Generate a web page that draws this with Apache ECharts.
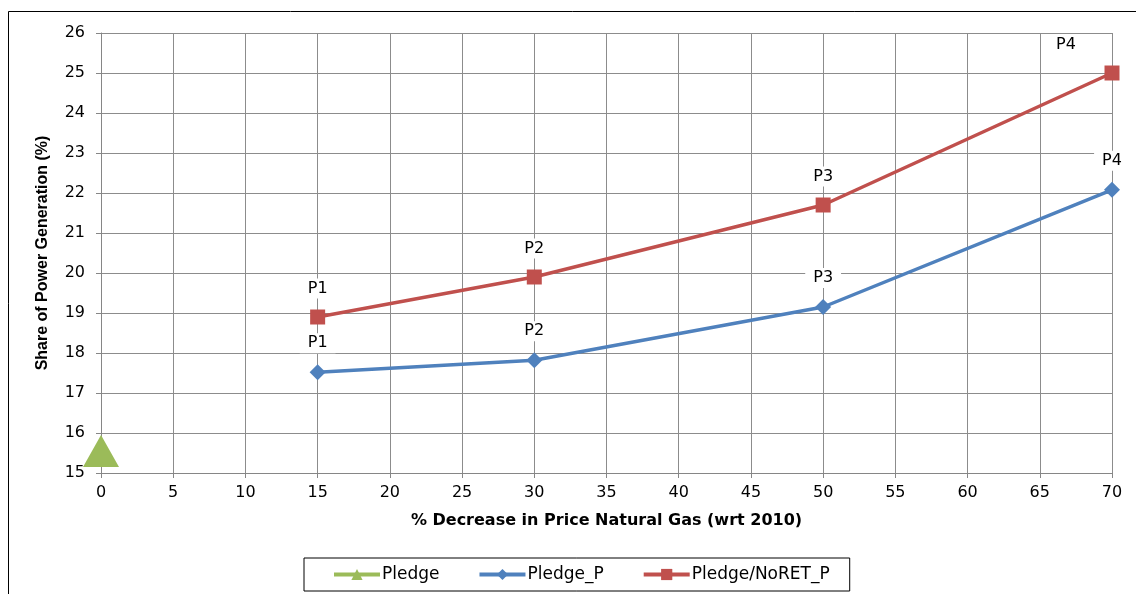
<!DOCTYPE html>
<html>
<head>
<meta charset="utf-8">
<script src="https://cdn.jsdelivr.net/npm/echarts@6/dist/echarts.min.js"></script>
<style>
  html, body { margin: 0; padding: 0; background: #fff; }
  #main { width: 1136px; height: 594px; }
</style>
</head>
<body>
<div id="main"></div>
<script>
// x categories (% decrease in gas price) and series values
const xPledge = [0]
const pledge = [15.55]
const xScen = [15, 30, 50, 70]
const pledgeP = [17.52, 17.82, 19.15, 22.08]
const pledgeNoRetP = [18.9, 19.9, 21.7, 25.0]
const pointLabels = ['P1', 'P2', 'P3', 'P4']

const font = 'DejaVu Sans, Liberation Sans, sans-serif'

function pairs (xs, ys) {
  return xs.map((x, i) => [x, ys[i]])
}

let myChart = echarts.init(document.getElementById('main'))

const labelStyle = {
  show: true,
  position: 'top',
  distance: 11,
  formatter: p => pointLabels[p.dataIndex],
  color: '#000',
  fontFamily: font,
  fontSize: 16,
  backgroundColor: '#fff',
  padding: [2, 8, 2, 8]
}

// red series: last label sits left of the point, like the original
let redData = pairs(xScen, pledgeNoRetP).map((v, i) => {
  if (i === xScen.length - 1) {
    return { value: v, label: { offset: [-46, 0] } }
  }
  return v
})

myChart.setOption({
  animation: false,
  graphic: [{
    type: 'rect',
    shape: { x: 8.5, y: 11.5, width: 1140, height: 600 },
    style: { fill: 'none', stroke: '#000', lineWidth: 1 },
    silent: true
  }],
  grid: { left: 101, right: 24, top: 33, bottom: 121 },
  xAxis: {
    type: 'value',
    min: 0,
    max: 70,
    interval: 5,
    name: '% Decrease in Price Natural Gas (wrt 2010)',
    nameLocation: 'middle',
    nameGap: 40,
    nameTextStyle: { fontFamily: font, fontSize: 16, fontWeight: 'bold', color: '#000' },
    axisLine: { show: true, lineStyle: { color: '#868686', width: 1 } },
    axisTick: { show: true, length: 5, lineStyle: { color: '#868686' } },
    axisLabel: { fontFamily: font, fontSize: 16, color: '#000', margin: 12 },
    splitLine: { show: true, lineStyle: { color: '#8c8c8c', width: 1 } }
  },
  yAxis: {
    type: 'value',
    min: 15,
    max: 26,
    interval: 1,
    name: 'Share of Power Generation (%)',
    nameLocation: 'middle',
    nameGap: 50,
    nameTextStyle: { fontFamily: 'Liberation Sans, Arial, sans-serif', fontSize: 16, fontWeight: 'bold', color: '#000' },
    axisLine: { show: true, lineStyle: { color: '#868686', width: 1 } },
    axisTick: { show: true, length: 5, lineStyle: { color: '#868686' } },
    axisLabel: { fontFamily: font, fontSize: 16, color: '#000', margin: 16 },
    splitLine: { show: true, lineStyle: { color: '#8c8c8c', width: 1 } }
  },
  legend: {
    bottom: 3,
    left: 304,
    itemWidth: 46,
    itemHeight: 14,
    itemGap: 38,
    padding: [8, 20, 8, 28],
    borderColor: '#000',
    borderWidth: 1,
    lineStyle: { width: 4 },
    textStyle: { fontFamily: font, fontSize: 17, color: '#000', padding: [0, 0, 0, -3] },
    data: ['Pledge', 'Pledge_P', 'Pledge/NoRET_P']
  },
  series: [
    {
      name: 'Pledge',
      type: 'line',
      data: pairs(xPledge, pledge),
      symbol: 'triangle',
      symbolSize: [36, 32],
      itemStyle: { color: '#9bbb59' },
      lineStyle: { color: '#9bbb59', width: 3.5 }
    },
    {
      name: 'Pledge_P',
      type: 'line',
      data: pairs(xScen, pledgeP),
      symbol: 'diamond',
      symbolSize: 16,
      itemStyle: { color: '#4f81bd' },
      lineStyle: { color: '#4f81bd', width: 3.5 },
      label: labelStyle
    },
    {
      name: 'Pledge/NoRET_P',
      type: 'line',
      data: redData,
      symbol: 'rect',
      symbolSize: 15,
      itemStyle: { color: '#c0504d' },
      lineStyle: { color: '#c0504d', width: 3.5 },
      label: labelStyle
    }
  ]
})
</script>
</body>
</html>
